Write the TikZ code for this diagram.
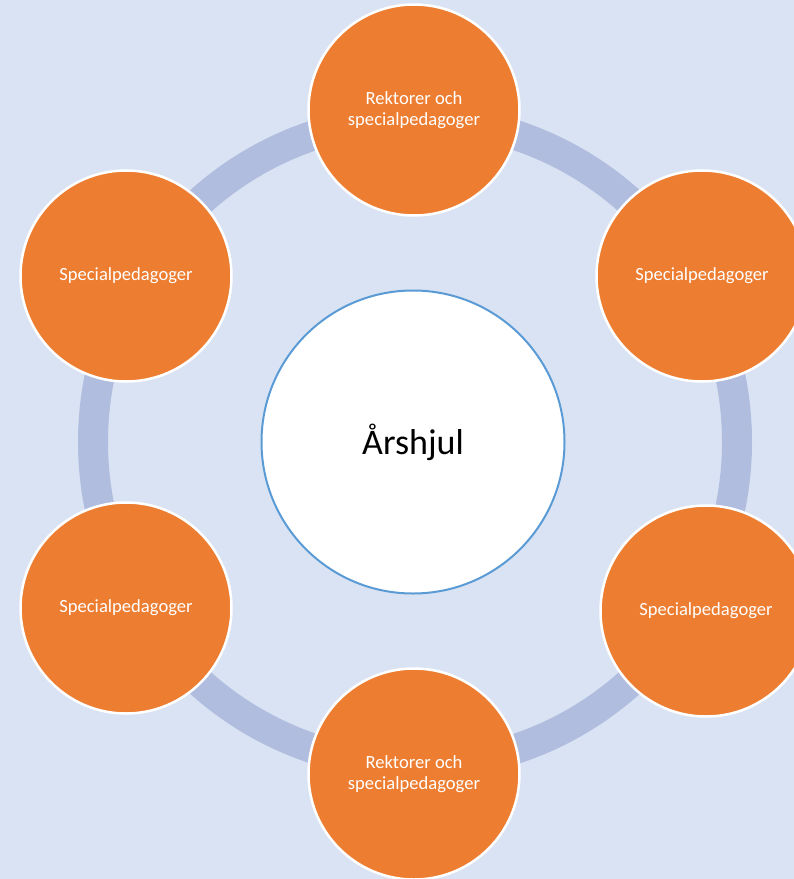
\documentclass[tikz,border=0pt]{standalone}
\usepackage{fontspec}
\setmainfont{Carlito}
\usepackage{tikz}

\definecolor{bgblue}{RGB}{218,227,243}
\definecolor{ringblue}{RGB}{176,189,222}
\definecolor{hubline}{RGB}{91,155,213}
\definecolor{petal}{RGB}{237,125,49}

\begin{document}
\begin{tikzpicture}[x=1pt,y=-1pt,
        main/.style = {draw=white, line width=2.5pt, circle, fill=petal, minimum size=211pt, inner sep=0pt,
                text=white, align=center, font=\fontsize{18.6}{20.5}\selectfont},
        hub/.style = {draw=hubline, line width=2pt, circle, fill=white, minimum size=303pt,
                font=\fontsize{36}{40}\selectfont},
        ring/.style = {draw=ringblue, line width=30pt}]
        \fill[bgblue] (0,0) rectangle (794,879);
        \useasboundingbox (0,0) rectangle (794,879);
        \coordinate (mid) at (413,442);
        \draw[ring] ([xshift=2pt]mid) circle[x radius=322, y radius=323];
        \node[hub] (hub) at (mid) {Årshjul};
        \node[main] (1) at (414,110) {Rektorer och\\specialpedagoger};
        \node[main] (2) at (702,276) {Specialpedagoger};
        \node[main] (3) at (706,611) {Specialpedagoger};
        \node[main] (4) at (414,774) {Rektorer och\\specialpedagoger};
        \node[main] (5) at (126,608) {Specialpedagoger};
        \node[main] (6) at (126,276) {Specialpedagoger};
        \end{tikzpicture}
\end{document}
